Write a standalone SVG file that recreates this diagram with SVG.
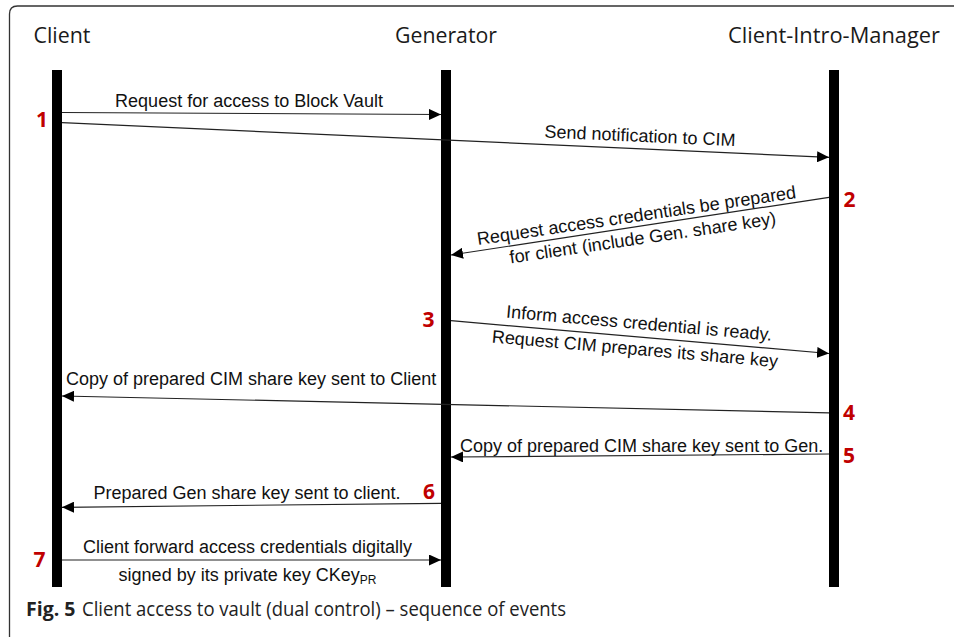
<svg xmlns="http://www.w3.org/2000/svg" width="954" height="637" viewBox="0 0 954 637">
  <style>
    .head { font-family: "Open Sans", "Liberation Sans", sans-serif; font-size: 21.5px; fill: #1a1a1a; text-anchor: middle; }
    .msg { font-family: "Liberation Sans", Arial, sans-serif; font-size: 18px; fill: #111; }
    .mid { text-anchor: middle; }
    .num { font-family: "Open Sans", "Liberation Sans", sans-serif; font-size: 21px; font-weight: bold; fill: #c00000; }
    .cap { font-family: "Open Sans", "Liberation Sans", sans-serif; font-size: 19.5px; fill: #222; }
    .bar { fill: #000; }
    .conn line { stroke: #222; stroke-width: 1.2; fill: none; marker-end: url(#arrow); }
  </style>
  <defs>
    <marker id="arrow" viewBox="0 0 12 11" refX="12" refY="5.5" markerWidth="12" markerHeight="11" markerUnits="userSpaceOnUse" orient="auto">
      <path d="M0,0 L12,5.5 L0,11 Z" fill="#000"/>
    </marker>
  </defs>

  <rect width="954" height="637" fill="#fff"/>
  <!-- figure frame -->
  <path d="M9.5,637 L9.5,14 Q9.5,6 17.5,6 L954,6" fill="none" stroke="#333" stroke-width="1.3"/>

  <!-- participants -->
  <g id="client">
    <text class="head" x="62" y="42.7" textLength="57" lengthAdjust="spacingAndGlyphs">Client</text>
    <rect class="bar" x="52" y="70" width="10" height="517"/>
  </g>
  <g id="generator">
    <text class="head" x="446" y="42.7" textLength="102" lengthAdjust="spacingAndGlyphs">Generator</text>
    <rect class="bar" x="441" y="70" width="10" height="517"/>
  </g>
  <g id="cim">
    <text class="head" x="834" y="42.7" textLength="212" lengthAdjust="spacingAndGlyphs">Client-Intro-Manager</text>
    <rect class="bar" x="829" y="70" width="10" height="517"/>
  </g>

  <!-- messages -->
  <g id="connectors" class="conn">
    <line x1="62" y1="112.5" x2="441" y2="114.5"/>
    <line x1="62" y1="122.7" x2="829" y2="157.3"/>
    <line x1="829" y1="197.3" x2="451" y2="255"/>
    <line x1="451" y1="320.7" x2="829" y2="353.5"/>
    <line x1="829" y1="412.8" x2="62" y2="396"/>
    <line x1="829" y1="454" x2="451" y2="457"/>
    <line x1="441" y1="503.3" x2="62" y2="507.3"/>
    <line x1="62" y1="560" x2="441" y2="560"/>
  </g>

  <!-- message labels -->
  <g id="labels">
    <text class="msg mid" x="249" y="107">Request for access to Block Vault</text>
    <g transform="translate(639.5,148.8) rotate(2.58)">
      <text class="msg mid" x="0" y="-7">Send notification to CIM</text>
    </g>
    <g transform="translate(638,226.5) rotate(-8.4)">
      <text class="msg mid" x="0" y="-5">Request access credentials be prepared</text>
      <text class="msg mid" x="3" y="18">for client (include Gen. share key)</text>
    </g>
    <g transform="translate(638,337.1) rotate(4.96)">
      <text class="msg mid" x="0" y="-8">Inform access credential is ready.</text>
      <text class="msg mid" x="-2" y="18">Request CIM prepares its share key</text>
    </g>
    <text class="msg" x="66" y="385">Copy of prepared CIM share key sent to Client</text>
    <text class="msg" x="460" y="451.7">Copy of prepared CIM share key sent to Gen.</text>
    <text class="msg mid" x="247" y="499">Prepared Gen share key sent to client.</text>
    <text class="msg mid" x="247.5" y="553.3">Client forward access credentials digitally</text>
    <text class="msg mid" x="247.5" y="581">signed by its private key CKey<tspan font-size="12" dy="3">PR</tspan></text>
  </g>

  <!-- step numbers -->
  <g id="steps">
    <text class="num" x="36" y="126.7">1</text>
    <text class="num" x="843.5" y="206.7">2</text>
    <text class="num" x="422.5" y="327">3</text>
    <text class="num" x="843" y="420">4</text>
    <text class="num" x="843" y="463">5</text>
    <text class="num" x="423" y="499.3">6</text>
    <text class="num" x="33.5" y="567.3">7</text>
  </g>

  <!-- caption -->
  <text class="cap" x="26" y="616"><tspan font-weight="bold">Fig. 5</tspan></text>
  <text class="cap" x="82" y="616" textLength="484" lengthAdjust="spacingAndGlyphs">Client access to vault (dual control) – sequence of events</text>
</svg>
